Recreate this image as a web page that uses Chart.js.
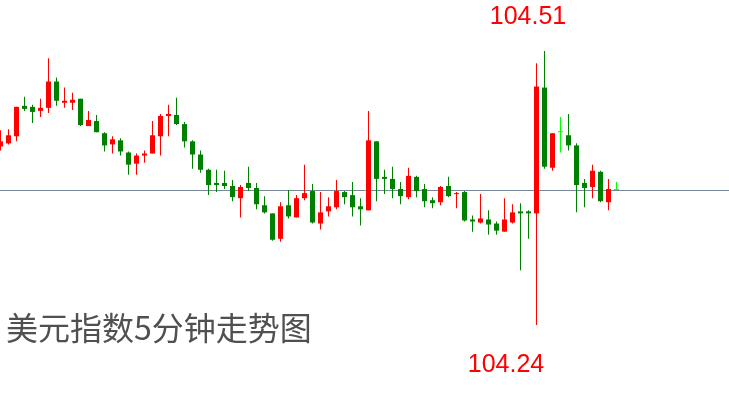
<!DOCTYPE html>
<html>
<head>
<meta charset="utf-8">
<script src="https://cdn.jsdelivr.net/npm/chart.js@4"></script>
<style>
  html, body { margin: 0; padding: 0; background: #fff; }
  #wrap { width: 729px; height: 401px; }
</style>
</head>
<body>
<div id="wrap"><canvas id="kline" width="729" height="401"></canvas></div>
<script>
// 5-minute candles, US dollar index
const opens = [104.416, 104.419, 104.426, 104.456, 104.455, 104.451, 104.454, 104.480, 104.459, 104.459,
  104.463, 104.436, 104.441, 104.429, 104.418, 104.422, 104.410, 104.399, 104.407, 104.409,
  104.426, 104.446, 104.447, 104.438, 104.421, 104.408, 104.393, 104.380, 104.380, 104.377,
  104.365, 104.380, 104.375, 104.358, 104.350, 104.325, 104.358, 104.346, 104.365, 104.372,
  104.340, 104.352, 104.356, 104.371, 104.368, 104.357, 104.353, 104.421, 104.386, 104.384,
  104.374, 104.366, 104.386, 104.374, 104.363, 104.361, 104.377, 104.369, 104.371, 104.344,
  104.341, 104.344, 104.340, 104.332, 104.341, 104.352, 104.352, 104.350, 104.474, 104.395,
  104.430, 104.427, 104.417, 104.380, 104.376, 104.391, 104.361, 104.373];
const highs = [104.432, 104.433, 104.455, 104.465, 104.457, 104.463, 104.503, 104.484, 104.474, 104.469,
  104.463, 104.451, 104.447, 104.430, 104.426, 104.424, 104.411, 104.409, 104.412, 104.441,
  104.448, 104.457, 104.464, 104.440, 104.422, 104.412, 104.394, 104.393, 104.392, 104.383,
  104.378, 104.396, 104.380, 104.367, 104.350, 104.361, 104.373, 104.368, 104.398, 104.379,
  104.371, 104.366, 104.383, 104.372, 104.381, 104.365, 104.451, 104.421, 104.393, 104.396,
  104.381, 104.395, 104.387, 104.379, 104.366, 104.377, 104.386, 104.371, 104.372, 104.348,
  104.369, 104.353, 104.342, 104.365, 104.359, 104.360, 104.353, 104.498, 104.510, 104.429,
  104.445, 104.448, 104.419, 104.384, 104.398, 104.392, 104.384, 104.381];
const lows = [104.412, 104.418, 104.421, 104.451, 104.439, 104.445, 104.449, 104.456, 104.454, 104.452,
  104.436, 104.436, 104.430, 104.411, 104.409, 104.407, 104.388, 104.388, 104.400, 104.409,
  104.407, 104.426, 104.437, 104.415, 104.394, 104.390, 104.368, 104.371, 104.374, 104.362,
  104.346, 104.372, 104.354, 104.350, 104.323, 104.322, 104.345, 104.346, 104.363, 104.340,
  104.334, 104.347, 104.354, 104.359, 104.347, 104.338, 104.353, 104.362, 104.369, 104.365,
  104.359, 104.364, 104.366, 104.356, 104.355, 104.358, 104.366, 104.355, 104.342, 104.332,
  104.340, 104.329, 104.329, 104.332, 104.340, 104.294, 104.325, 104.240, 104.394, 104.392,
  104.410, 104.412, 104.351, 104.356, 104.365, 104.361, 104.353, 104.373];
const closes = [104.421, 104.427, 104.455, 104.453, 104.450, 104.454, 104.480, 104.461, 104.461, 104.462,
  104.437, 104.442, 104.430, 104.417, 104.423, 104.411, 104.398, 104.407, 104.409, 104.427,
  104.446, 104.448, 104.438, 104.421, 104.408, 104.393, 104.378, 104.378, 104.377, 104.366,
  104.376, 104.375, 104.359, 104.351, 104.324, 104.357, 104.347, 104.365, 104.370, 104.341,
  104.351, 104.357, 104.372, 104.366, 104.356, 104.354, 104.422, 104.384, 104.384, 104.374,
  104.367, 104.387, 104.372, 104.362, 104.360, 104.376, 104.367, 104.370, 104.343, 104.342,
  104.345, 104.339, 104.333, 104.344, 104.351, 104.350, 104.350, 104.475, 104.396, 104.429,
  104.430, 104.417, 104.378, 104.375, 104.392, 104.362, 104.374, 104.373];

const title = '美元指数5分钟走势图';
const highLabel = '104.51';
const lowLabel = '104.24';

// red = up, green = down, lime = unchanged
const colors = opens.map((o, i) => closes[i] > o ? '#ff0000' : (closes[i] < o ? '#008000' : '#00ff00'));
const bodies = opens.map((o, i) => ({ x: i, y: [o, closes[i]] }));
const wicks = lows.map((l, i) => ({ x: i, y: [l, highs[i]] }));
const lastPrice = closes[closes.length - 1];

const overlay = {
  id: 'overlay',
  beforeDatasetsDraw(chart) {
    const ctx = chart.ctx;
    const y = Math.round(chart.scales.y.getPixelForValue(lastPrice)) + 0.5;
    ctx.save();
    ctx.strokeStyle = '#778899';
    ctx.lineWidth = 1;
    ctx.beginPath();
    ctx.moveTo(0, y);
    ctx.lineTo(chart.width, y);
    ctx.stroke();
    ctx.restore();
  },
  afterDraw(chart) {
    const ctx = chart.ctx;
    ctx.save();
    ctx.fillStyle = '#ff0000';
    ctx.font = '25px "Liberation Sans", Arial, sans-serif';
    ctx.textAlign = 'center';
    ctx.textBaseline = 'alphabetic';
    ctx.fillText(highLabel, 528, 24);
    ctx.fillText(lowLabel, 506, 372);
    ctx.fillStyle = '#505050';
    ctx.font = '32px "Noto Sans CJK SC", sans-serif';
    ctx.textAlign = 'left';
    ctx.fillText(title, 6, 340);
    ctx.restore();
  }
};

new Chart(document.getElementById('kline'), {
  type: 'bar',
  data: {
    datasets: [
      {
        data: bodies,
        backgroundColor: colors,
        barThickness: 5,
        minBarLength: 1,
        grouped: false,
        inflateAmount: 0,
        borderWidth: 0,
        order: 1
      },
      {
        data: wicks,
        backgroundColor: colors,
        barThickness: 1,
        grouped: false,
        inflateAmount: 0,
        borderWidth: 0,
        order: 2
      }
    ]
  },
  options: {
    responsive: false,
    animation: false,
    layout: { padding: 0 },
    plugins: { legend: { display: false }, tooltip: { enabled: false } },
    scales: {
      x: { type: 'linear', display: false, offset: false, min: -0.0625, max: 91.0625 },
      y: { display: false, min: 104.1651, max: 104.5603 }
    }
  },
  plugins: [overlay]
});
</script>
</body>
</html>
